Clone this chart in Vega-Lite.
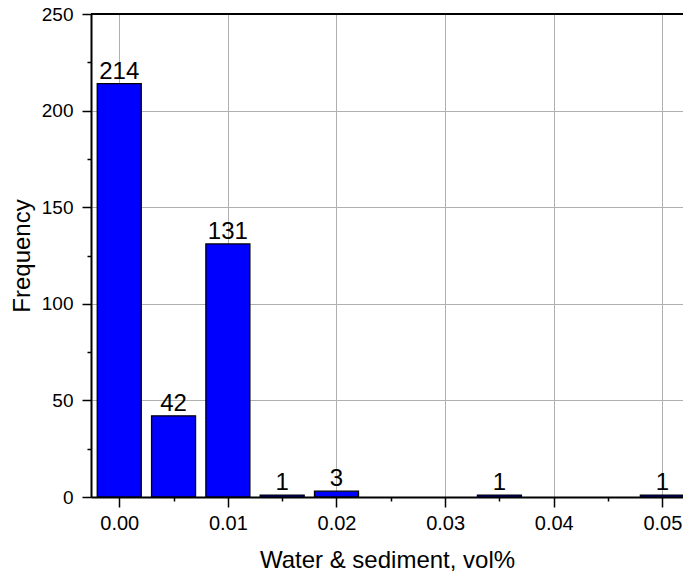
{
  "$schema": "https://vega.github.io/schema/vega-lite/v6.json",
  "autosize": {"type": "none"},
  "padding": {"left": 91, "top": 14, "right": 0, "bottom": 78},
  "width": 592,
  "height": 483,
  "config": {
    "view": {"stroke": null},
    "font": "Liberation Sans"
  },
  "data": {
    "values": [
      {"ws": 0.000, "freq": 214},
      {"ws": 0.005, "freq": 42},
      {"ws": 0.010, "freq": 131},
      {"ws": 0.015, "freq": 1},
      {"ws": 0.020, "freq": 3},
      {"ws": 0.035, "freq": 1},
      {"ws": 0.050, "freq": 1}
    ]
  },
  "layer": [
    {
      "mark": {"type": "bar", "width": 44, "fill": "#0000FF", "stroke": "#000000", "strokeWidth": 1.3, "clip": true},
      "encoding": {
        "x": {
          "field": "ws", "type": "quantitative",
          "scale": {"domain": [-0.0026, 0.0519], "nice": false, "zero": false, "padding": 0},
          "axis": {
            "title": "Water & sediment, vol%",
            "titleFontSize": 24, "titleFontWeight": "normal", "titleColor": "#000000", "titlePadding": 15,
            "values": [0, 0.005, 0.01, 0.015, 0.02, 0.025, 0.03, 0.035, 0.04, 0.045, 0.05],
            "labelExpr": "round(datum.value*200) % 2 == 0 ? format(datum.value, '.2f') : ''",
            "labelFontSize": 20, "labelColor": "#000000", "labelPadding": 6,
            "domainColor": "#000000", "domainWidth": 2,
            "tickColor": "#000000", "tickWidth": 1.5,
            "tickSize": {"condition": {"test": "round(datum.value*200) % 2 == 0", "value": 10}, "value": 4},
            "grid": true, "gridColor": "#b0b0b0", "gridWidth": 1,
            "gridOpacity": {"condition": {"test": "round(datum.value*200) % 2 == 0", "value": 1}, "value": 0}
          }
        },
        "y": {
          "field": "freq", "type": "quantitative",
          "scale": {"domain": [0, 250], "nice": false, "padding": 0},
          "axis": {
            "title": "Frequency",
            "titleFontSize": 24, "titleFontWeight": "normal", "titleColor": "#000000", "titlePadding": 7,
            "values": [0, 25, 50, 75, 100, 125, 150, 175, 200, 225, 250],
            "labelExpr": "round(datum.value/25) % 2 == 0 ? format(datum.value, 'd') : ''",
            "labelFontSize": 19, "labelColor": "#000000", "labelPadding": 9,
            "domainColor": "#000000", "domainWidth": 2,
            "tickColor": "#000000", "tickWidth": 1.5,
            "tickSize": {"condition": {"test": "round(datum.value/25) % 2 == 0", "value": 9}, "value": 4},
            "grid": true, "gridColor": "#b0b0b0", "gridWidth": 1,
            "gridOpacity": {"condition": {"test": "round(datum.value/25) % 2 == 0", "value": 1}, "value": 0}
          }
        }
      }
    },
    {
      "mark": {"type": "text", "fontSize": 24, "dy": -5, "baseline": "alphabetic", "color": "#000000"},
      "encoding": {
        "x": {"field": "ws", "type": "quantitative"},
        "y": {"field": "freq", "type": "quantitative"},
        "text": {"field": "freq", "type": "quantitative"}
      }
    },
    {
      "mark": {"type": "rule", "color": "#000000", "strokeWidth": 2},
      "encoding": {"y": {"datum": 250}}
    }
  ]
}
